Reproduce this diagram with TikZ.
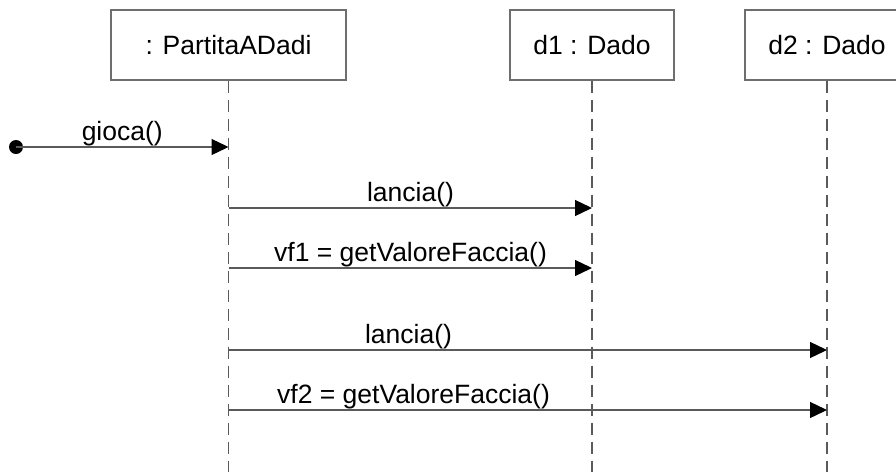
\documentclass[tikz,border=0pt]{standalone}
\usepackage{fontspec}
\setmainfont{Liberation Sans}
\usetikzlibrary{arrows.meta, positioning, calc}
\definecolor{boxgray}{HTML}{6E6E6E}
\definecolor{linegray}{HTML}{5A5A5A}
\tikzset{
  x=1pt, y=-1pt,
  obj/.style={draw=boxgray, line width=1.1pt, minimum height=70pt, inner sep=0pt, font=\fontsize{26.5}{30}\selectfont},
  lifeline/.style={draw=linegray, line width=1.1pt, dash pattern=on 12pt off 7pt},
  msg/.style={draw=linegray, line width=1.3pt, -{Triangle[length=17pt, width=16pt, black]}},
  lbl/.style={anchor=south, inner sep=0.5pt, text=black, font=\fontsize{26.5}{30}\selectfont},
  startdot/.style={circle, fill=black, minimum size=14pt, inner sep=0pt}
}

\begin{document}
\begin{tikzpicture}
  \useasboundingbox (0,0) rectangle (896,472);

  % objects
  \node[obj, minimum width=235pt] (partita) at (228.5,45) {: PartitaADadi};
  \node[obj, minimum width=164pt] (dado1) at (592,45) {d1 : Dado};
  \node[obj, minimum width=164pt] (dado2) at (827,45) {d2 : Dado};

  % lifelines
  \coordinate (partitaEnd) at (partita.south |- 0,472);
  \coordinate (dado1End) at (dado1.south |- 0,472);
  \coordinate (dado2End) at (dado2.south |- 0,472);
  \draw[lifeline] (partita.south) -- (partitaEnd);
  \draw[lifeline] (dado1.south) -- (dado1End);
  \draw[lifeline] (dado2.south) -- (dado2End);

  % gioca
  \node[startdot] (start) at (16,147) {};
  \coordinate (giocaEnd) at (partita.south |- start);
  \draw[msg] (start.center) -- (giocaEnd) node[lbl, midway] {gioca()};

  % d1
  \coordinate (lancia1S) at (partita.south |- 0,208);
  \coordinate (lancia1T) at (dado1.south |- 0,208);
  \draw[msg] (lancia1S) -- (lancia1T) node[lbl, at start, xshift=182pt] {lancia()};

  \coordinate (vf1S) at (partita.south |- 0,268);
  \coordinate (vf1T) at (dado1.south |- 0,268);
  \draw[msg] (vf1S) -- (vf1T) node[lbl, at start, xshift=182pt] {vf1 = getValoreFaccia()};

  % d2
  \coordinate (lancia2S) at (partita.south |- 0,350);
  \coordinate (lancia2T) at (dado2.south |- 0,350);
  \draw[msg] (lancia2S) -- (lancia2T) node[lbl, at start, xshift=180pt] {lancia()};

  \coordinate (vf2S) at (partita.south |- 0,410);
  \coordinate (vf2T) at (dado2.south |- 0,410);
  \draw[msg] (vf2S) -- (vf2T) node[lbl, at start, xshift=185pt] {vf2 = getValoreFaccia()};
\end{tikzpicture}
\end{document}
